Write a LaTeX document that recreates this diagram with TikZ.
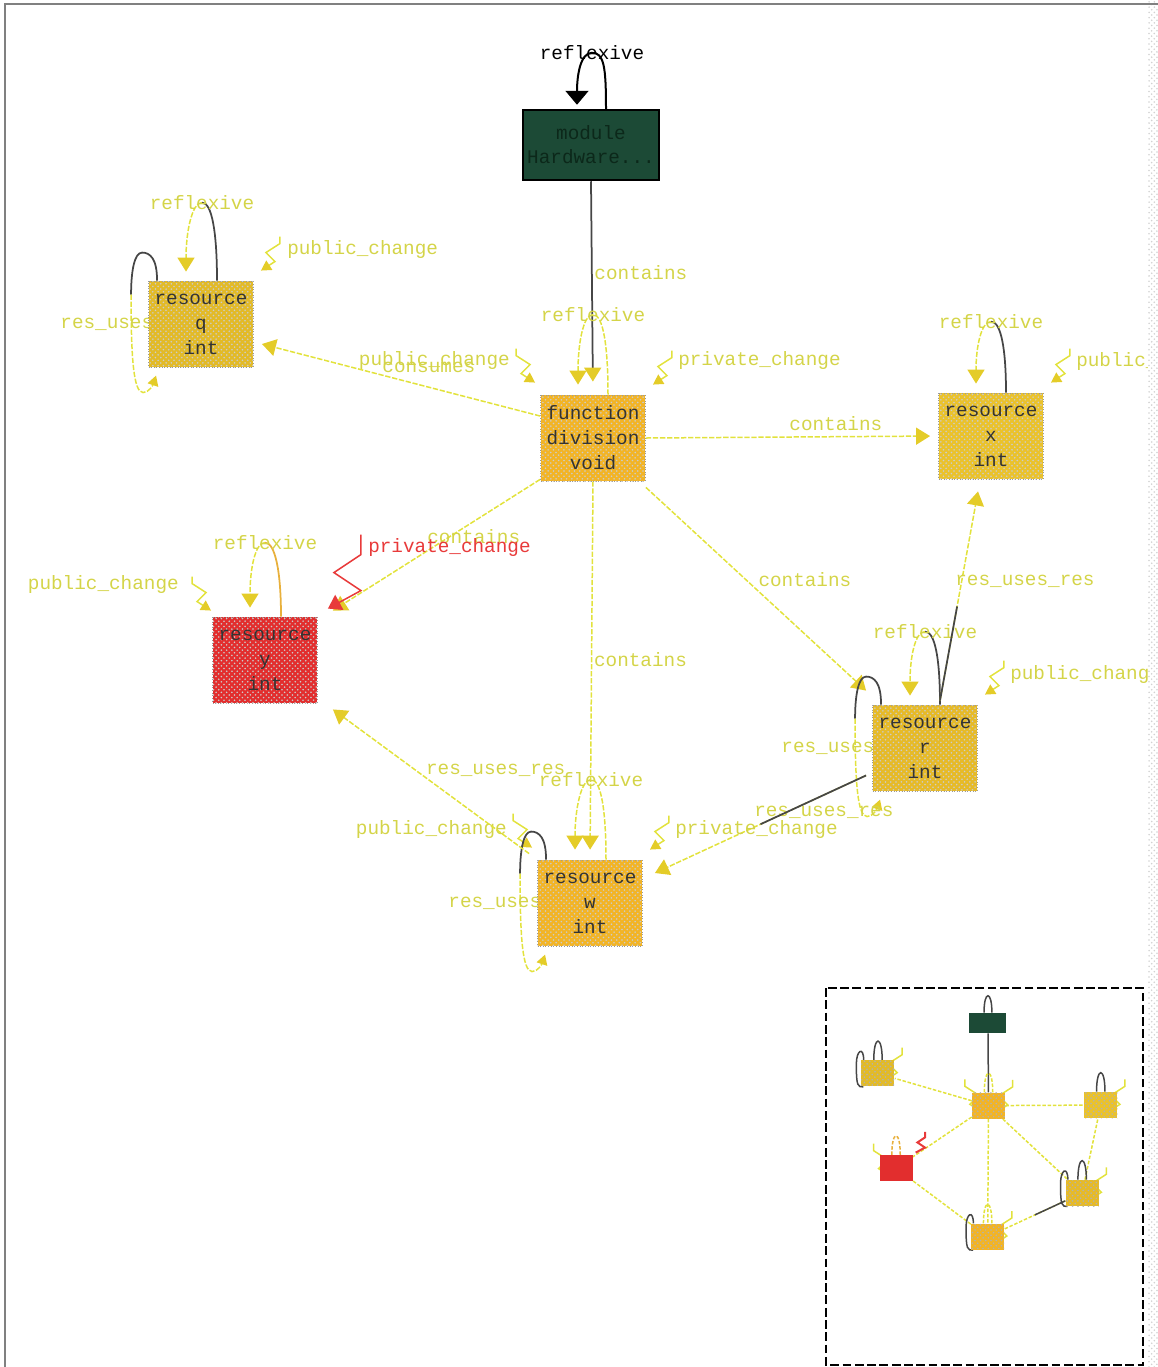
\documentclass[tikz,border=0pt]{standalone}
\usepackage{fontspec}
\setmonofont{Liberation Mono}
\usetikzlibrary{arrows.meta,calc,patterns}

\definecolor{edgeyel}{RGB}{226,226,60}
\definecolor{labyel}{RGB}{212,212,72}
\definecolor{tipyel}{RGB}{228,204,40}
\definecolor{loopdark}{RGB}{70,70,70}
\definecolor{modgreen}{RGB}{28,74,54}
\definecolor{modtext}{RGB}{12,40,26}
\definecolor{fnorange}{RGB}{242,180,38}
\definecolor{qyel}{RGB}{226,186,40}
\definecolor{xyel}{RGB}{234,194,44}
\definecolor{ryel}{RGB}{230,186,40}
\definecolor{yred}{RGB}{226,46,46}
\definecolor{privred}{RGB}{232,58,58}
\definecolor{yloop}{RGB}{232,176,60}

\pgfdeclarelayer{edges}
\pgfsetlayers{edges,main}

\newcommand{\lbfont}{\fontsize{11}{13}\selectfont\ttfamily}
\newcommand{\boxfont}{\fontsize{11}{14.2}\selectfont\ttfamily}

\tikzset{
  zigr/.pic={\draw[draw=edgeyel, line width=0.03cm, -{Triangle[width=0.22cm,length=0.2cm,color=tipyel]}]
    (0,0) -- (0,7) -- (-14,16) -- (-5,25) -- (-19,34);},
  zigl/.pic={\draw[draw=edgeyel, line width=0.03cm, -{Triangle[width=0.22cm,length=0.2cm,color=tipyel]}]
    (0,0) -- (0,7) -- (14,16) -- (5,25) -- (19,34);},
  izig/.pic={\draw (0,0) -- (0,7) -- (-14,16) -- (-5,25) -- (-19,34);}
}

\begin{document}
\begin{tikzpicture}[x={(0.02cm,0)}, y={(0,-0.02cm)},
  >={Triangle[width=0.34cm,length=0.28cm,color=tipyel]},
  res/.style={draw=gray!80, densely dotted, line width=0.5pt, minimum width=2.1cm, minimum height=1.72cm,
    inner sep=0pt, align=center, font=\boxfont, text=black!80,
    postaction={pattern=crosshatch dots, pattern color=black!20}},
  modbox/.style={draw=black, line width=0.05cm, fill=modgreen, minimum width=2.72cm, minimum height=1.4cm,
    inner sep=0pt, align=center, font=\fontsize{11}{13.6}\selectfont\ttfamily, text=modtext},
  ye/.style={draw=edgeyel, line width=0.03cm, dash pattern=on 3pt off 1pt},
  dk/.style={draw=loopdark, line width=0.035cm},
  lab/.style={text=labyel, font=\lbfont, inner sep=0pt},
  smalltip/.style={-{Triangle[width=0.22cm,length=0.2cm,color=tipyel]}},
  mini/.style={minimum width=0.66cm, minimum height=0.52cm, inner sep=0pt},
  dither/.style={postaction={pattern=crosshatch dots, pattern color=black!30}},
  iedge/.style={draw=edgeyel, line width=0.03cm, dash pattern=on 2pt off 1pt}]

  \useasboundingbox (0,0) rectangle (1158,1367);
  % window frame
  \fill[pattern=crosshatch dots, pattern color=gray!35] (1148,0) rectangle (1158,1367);
  \draw[gray, line width=0.04cm] (5,1367) -- (5,4) -- (1158,4);

  % graph nodes
  \node[modbox] (mod) at (591,145) {module\\Hardware...};
  \node[res, fill=fnorange] (fn) at (593,438) {function\\division\\void};
  \node[res, fill=qyel] (rq) at (201,324) {resource\\q\\int};
  \node[res, fill=xyel] (rx) at (991,436) {resource\\x\\int};
  \node[res, fill=yred] (ry) at (265,660) {resource\\y\\int};
  \node[res, fill=ryel] (rr) at (925,748) {resource\\r\\int};
  \node[res, fill=fnorange] (rw) at (590,903) {resource\\w\\int};

  \begin{pgfonlayer}{edges}
  \begin{scope}
  \clip (6,6) rectangle (1147,1366);

  % module
  \draw[dk, draw=black, line width=0.04cm, -{Triangle[width=0.46cm,length=0.28cm,color=black]}]
    ($(mod.north)+(15,0)$) .. controls +(0,-42) and +(12,0) .. ($(mod.north)+(1,-56)$)
    node[font=\lbfont, inner sep=0pt] (modrefl) {reflexive}
    .. controls +(-12,0) and +(0,-28) .. ($(mod.north)+(-14,-4)$);
  \draw[dk, ->, shorten >=0.26cm] (mod.south) -- (fn.north)
    node[lab, pos=.43, anchor=west, xshift=1pt] (modcont) {contains};

  % function
  \draw[ye] ($(fn.north)+(15,0)$) .. controls +(0,-50) and +(10,0) .. ($(fn.north)+(0,-80)$);
  \draw[ye, ->] ($(fn.north)+(0,-80)$) node[lab] (fnrefl) {reflexive}
    .. controls +(-10,0) and +(0,-40) .. ($(fn.north)+(-15,-10)$);
  \pic at ($(fn.north east)+(26,-44)$) {zigr};
  \node[lab, anchor=west] (fnpriv) at ($(fn.north east)+(32,-34)$) {private\_change};
  \pic at ($(fn.north west)+(-24,-46)$) {zigl};
  \node[lab, anchor=east] (fnpub) at ($(fn.north west)+(-30,-34)$) {public\_change};
  \draw[ye, ->, shorten >=0.16cm] (fn.east) -- (rx.west)
    node[lab, pos=.65, above=3pt] (fnxcont) {contains};
  \draw[ye, ->] ($(fn.west)+(0,-22)$) -- ($(rq.east)+(8,20)$)
    node[lab, pos=.4, above=8pt] (fnqcons) {consumes};
  \draw[ye, ->] ($(fn.south west)+(0,-2)$) -- ($(ry.north east)+(15,-6)$)
    node[lab, pos=.32, below=4pt] (fnycont) {contains};
  \draw[ye, ->, shorten >=0.2cm] (fn.south) -- (rw.north)
    node[lab, pos=.47, anchor=west, xshift=1pt] (fnwcont) {contains};
  \draw[ye, ->] ($(fn.south east)+(0,6)$) -- ($(rr.north west)+(-6,-14)$)
    node[lab, pos=.5, anchor=south west, inner sep=1pt] (fnrcont) {contains};

  % resource q
  \draw[dk] ($(rq.north)+(16,0)$) .. controls +(0,-48) and +(10,0) .. ($(rq.north)+(1,-78)$);
  \draw[ye, ->] ($(rq.north)+(1,-78)$) node[lab] (qrefl) {reflexive}
    .. controls +(-10,0) and +(0,-40) .. ($(rq.north)+(-15,-9)$);
  \pic at ($(rq.north east)+(26,-44)$) {zigr};
  \node[lab, anchor=west] (qpub) at ($(rq.north east)+(33,-31)$) {public\_change};
  \draw[dk] ($(rq.north west)+(9,0)$) .. controls +(0,-22) and +(8,0) .. ($(rq.north west)+(-6,-28)$)
    .. controls +(-8,0) and +(0,-22) .. ($(rq.north west)+(-17,14)$);
  \draw[ye, smalltip] ($(rq.north west)+(-17,14)$) .. controls +(0,60) and +(-10,0) .. ($(rq.north west)+(-5,112)$)
    .. controls +(6,0) and +(-3,9) .. ($(rq.north west)+(8,95)$);
  \node[lab, anchor=west] (qres) at ($(rq.west)+(-88,0)$) {res\_uses\_res};

  % resource x
  \draw[dk] ($(rx.north)+(15,0)$) .. controls +(0,-44) and +(10,0) .. ($(rx.north)+(0,-71)$);
  \draw[ye, ->] ($(rx.north)+(0,-71)$) node[lab] (xrefl) {reflexive}
    .. controls +(-10,0) and +(0,-36) .. ($(rx.north)+(-15,-9)$);
  \pic at ($(rx.north east)+(26,-44)$) {zigr};
  \node[lab, anchor=west] (xpub) at ($(rx.north east)+(32,-31)$) {public\_change};

  % resource y
  \draw[dk, draw=yloop] ($(ry.north)+(16,0)$) .. controls +(0,-46) and +(10,0) .. ($(ry.north)+(0,-74)$);
  \draw[ye, ->] ($(ry.north)+(0,-74)$) node[lab] (yrefl) {reflexive}
    .. controls +(-10,0) and +(0,-38) .. ($(ry.north)+(-15,-9)$);
  \pic at ($(ry.north west)+(-20,-40)$) {zigl};
  \node[lab, anchor=east] (ypub) at ($(ry.north west)+(-33,-32)$) {public\_change};
  \coordinate (ypc) at ($(ry.north east)+(43,-82)$);
  \draw[draw=privred, line width=0.03cm, -{Triangle[width=0.34cm,length=0.26cm,color=privred]}]
    (ypc) -- ++(0,20) -- ++(-27,18) -- ++(27,18) -- ($(ry.north east)+(10,-8)$);
  \node[anchor=west, text=privred, font=\lbfont, inner sep=0pt] (ypriv) at ($(ypc)+(7,13)$) {private\_change};

  % resource r
  \draw[dk] ($(rr.north)+(15,0)$) .. controls +(0,-46) and +(10,0) .. ($(rr.north)+(0,-73)$);
  \draw[ye, ->] ($(rr.north)+(0,-73)$) node[lab] (rrefl) {reflexive}
    .. controls +(-10,0) and +(0,-38) .. ($(rr.north)+(-15,-9)$);
  \pic at ($(rr.north east)+(26,-44)$) {zigr};
  \node[lab, anchor=west] (rpub) at ($(rr.north east)+(32,-30)$) {public\_change};
  \draw[dk] ($(rr.north west)+(9,0)$) .. controls +(0,-22) and +(8,0) .. ($(rr.north west)+(-6,-28)$)
    .. controls +(-8,0) and +(0,-22) .. ($(rr.north west)+(-17,14)$);
  \draw[ye, smalltip] ($(rr.north west)+(-17,14)$) .. controls +(0,60) and +(-10,0) .. ($(rr.north west)+(-5,112)$)
    .. controls +(6,0) and +(-3,9) .. ($(rr.north west)+(8,95)$);
  \node[lab, anchor=west] (rres) at ($(rr.west)+(-91,0)$) {res\_uses\_res};
  \coordinate (rxs) at ($(rr.north)+(15,-4)$);
  \coordinate (rxe) at ($(rx.south)+(-13,12)$);
  \draw[ye, ->] (rxs) -- (rxe) node[lab, pos=.57, anchor=west, xshift=-4pt] (rxres) {res\_uses\_res};
  \draw[dk] (rxs) -- ($(rxs)!0.45!(rxe)$);
  \coordinate (rws) at ($(rr.south west)+(-6,-16)$);
  \coordinate (rwe) at ($(rw.east)+(12,-30)$);
  \draw[ye, ->] (rws) -- (rwe) node[lab, pos=.2, below=6pt] (rwres) {res\_uses\_res};
  \draw[dk] (rws) -- ($(rws)!0.5!(rwe)$);

  % resource w
  \draw[ye] ($(rw.north)+(16,0)$) .. controls +(0,-50) and +(10,0) .. ($(rw.north)+(1,-80)$);
  \draw[ye, ->] ($(rw.north)+(1,-80)$) node[lab] (wrefl) {reflexive}
    .. controls +(-10,0) and +(0,-40) .. ($(rw.north)+(-15,-10)$);
  \pic at ($(rw.north east)+(26,-44)$) {zigr};
  \node[lab, anchor=west] (wpriv) at ($(rw.north east)+(32,-30)$) {private\_change};
  \pic at ($(rw.north west)+(-24,-46)$) {zigl};
  \node[lab, anchor=east] (wpub) at ($(rw.north west)+(-30,-30)$) {public\_change};
  \draw[dk] ($(rw.north west)+(9,0)$) .. controls +(0,-22) and +(8,0) .. ($(rw.north west)+(-6,-28)$)
    .. controls +(-8,0) and +(0,-22) .. ($(rw.north west)+(-17,14)$);
  \draw[ye, smalltip] ($(rw.north west)+(-17,14)$) .. controls +(0,60) and +(-10,0) .. ($(rw.north west)+(-5,112)$)
    .. controls +(6,0) and +(-3,9) .. ($(rw.north west)+(8,95)$);
  \node[lab, anchor=west] (wres) at ($(rw.west)+(-89,0)$) {res\_uses\_res};
  \coordinate (wys) at ($(rw.north west)+(-8,-6)$);
  \coordinate (wye) at ($(ry.south east)+(15,6)$);
  \draw[ye, ->] (wys) -- (wye) node[lab, pos=.58, anchor=west, xshift=0.2cm] (wyres) {res\_uses\_res};
  \end{scope}
  \end{pgfonlayer}

  % overview
  \draw[black, line width=0.04cm, dash pattern=on 5pt off 2pt] (826,988) rectangle (1143,1365);
  \begin{scope}[shift={(821.3,982.1)}, scale=0.282]
    \node[mini, fill=modgreen, minimum width=0.74cm, minimum height=0.4cm] (imod) at (591,145) {};
    \node[mini, dither, fill=fnorange] (ifn) at (593,438) {};
    \node[mini, dither, fill=qyel] (iq) at (201,324) {};
    \node[mini, dither, fill=xyel] (ix) at (991,436) {};
    \node[mini, fill=yred] (iy) at (265,660) {};
    \node[mini, dither, fill=ryel] (ir) at (925,748) {};
    \node[mini, dither, fill=fnorange] (iw) at (590,903) {};
    \begin{pgfonlayer}{edges}
      \draw[dk, line width=0.03cm] (imod) -- (ifn);
      \draw[iedge] (ifn) -- (iq);
      \draw[iedge] (ifn) -- (ix);
      \draw[iedge] (ifn) -- (iy);
      \draw[iedge] (ifn) -- (iw);
      \draw[iedge] (ifn) -- (ir);
      \draw[iedge] (ir) -- (ix);
      \draw[iedge] (iw) -- (iy);
      \draw[iedge] (ir) -- (iw);
      \draw[dk, line width=0.03cm] (ir) -- ($(ir)!0.5!(iw)$);
      \draw[dk, line width=0.03cm] ($(imod.north)+(14,0)$) .. controls +(0,-80) and +(0,-80) .. ($(imod.north)+(-14,0)$);
      \draw[dk, line width=0.03cm] ($(iq.north)+(15,0)$) .. controls +(0,-90) and +(0,-90) .. ($(iq.north)+(-15,0)$);
      \draw[dk, line width=0.03cm] ($(ix.north)+(15,0)$) .. controls +(0,-90) and +(0,-90) .. ($(ix.north)+(-15,0)$);
      \draw[dk, line width=0.03cm] ($(ir.north)+(15,0)$) .. controls +(0,-90) and +(0,-90) .. ($(ir.north)+(-15,0)$);
      \draw[iedge] ($(ifn.north)+(15,0)$) .. controls +(0,-90) and +(0,-90) .. ($(ifn.north)+(-15,0)$);
      \draw[iedge] ($(iw.north)+(15,0)$) .. controls +(0,-90) and +(0,-90) .. ($(iw.north)+(-15,0)$);
      \draw[iedge, draw=yloop] ($(iy.north)+(15,0)$) .. controls +(0,-90) and +(0,-90) .. ($(iy.north)+(-15,0)$);
      \draw[dk, line width=0.03cm] ($(iq.north west)+(9,0)$) .. controls +(0,-50) and +(0,-50) .. ($(iq.north west)+(-17,14)$)
        .. controls +(0,80) and +(-20,0) .. ($(iq.north west)+(8,95)$);
      \draw[dk, line width=0.03cm] ($(ir.north west)+(9,0)$) .. controls +(0,-50) and +(0,-50) .. ($(ir.north west)+(-17,14)$)
        .. controls +(0,80) and +(-20,0) .. ($(ir.north west)+(8,95)$);
      \draw[dk, line width=0.03cm] ($(iw.north west)+(9,0)$) .. controls +(0,-50) and +(0,-50) .. ($(iw.north west)+(-17,14)$)
        .. controls +(0,80) and +(-20,0) .. ($(iw.north west)+(8,95)$);
      \pic[edgeyel, line width=0.03cm] at ($(ifn.north east)+(26,-44)$) {izig};
      \pic[edgeyel, line width=0.03cm, xscale=-1] at ($(ifn.north west)+(-24,-46)$) {izig};
      \pic[edgeyel, line width=0.03cm] at ($(iq.north east)+(26,-44)$) {izig};
      \pic[edgeyel, line width=0.03cm] at ($(ix.north east)+(26,-44)$) {izig};
      \pic[edgeyel, line width=0.03cm] at ($(ir.north east)+(26,-44)$) {izig};
      \pic[edgeyel, line width=0.03cm] at ($(iw.north east)+(26,-44)$) {izig};
      \pic[edgeyel, line width=0.03cm, xscale=-1] at ($(iy.north west)+(-20,-40)$) {izig};
      \draw[privred, line width=0.04cm] ($(iy.north east)+(43,-82)$) -- ++(0,20) -- ++(-27,18) -- ++(27,18) -- ($(iy.north east)+(10,-8)$);
    \end{pgfonlayer}
  \end{scope}
\end{tikzpicture}
\end{document}
